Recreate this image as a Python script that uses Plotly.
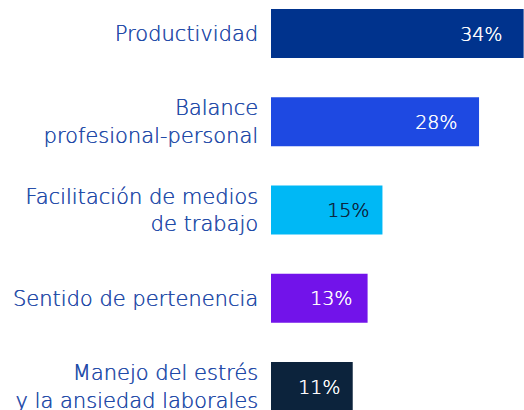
import plotly.graph_objects as go

categories = [
    "Productividad",
    "Balance<br>profesional-personal",
    "Facilitación de medios<br>de trabajo",
    "Sentido de pertenencia",
    "Manejo del estrés<br>y la ansiedad laborales",
]
values = [34, 28, 15, 13, 11]
value_labels = ["34%", "28%", "15%", "13%", "11%"]

bar_colors = ["#00338D", "#1E49E2", "#00B8F5", "#7213EA", "#0C233C"]
label_colors = ["#FFFFFF", "#FFFFFF", "#0C233C", "#FFFFFF", "#FFFFFF"]
label_shifts = [-20, -20, -11, -14, -11]

FONT = "DejaVu Sans"
TEXT_BLUE = "#1F4AA8"


def thick(c):
    return f"0.4px 0 0 {c}"


fig = go.Figure()
fig.add_trace(go.Bar(
    x=values,
    y=categories,
    orientation="h",
    marker=dict(color=bar_colors, line=dict(width=0)),
    width=0.555,
    hoverinfo="skip",
))

for cat, v, lab, col, sh in zip(categories, values, value_labels, label_colors, label_shifts):
    fig.add_annotation(
        x=v, y=cat, text=lab, showarrow=False,
        xanchor="right", yanchor="middle", xshift=sh,
        font=dict(family=FONT, size=19, color=col, weight=300, shadow=thick(col)),
    )

fig.update_layout(
    width=524, height=410,
    margin=dict(l=271, r=0, t=0, b=0, autoexpand=False),
    paper_bgcolor="white", plot_bgcolor="white",
    showlegend=False,
    xaxis=dict(range=[0, 34.05], visible=False, fixedrange=True),
    yaxis=dict(
        type="category",
        categoryorder="array", categoryarray=categories,
        range=[4.266, -0.380],
        showgrid=False, zeroline=False, showline=False,
        ticks="", ticklabelstandoff=12,
        tickfont=dict(family=FONT, size=21, color=TEXT_BLUE, weight=300,
                      shadow=thick(TEXT_BLUE)),
        fixedrange=True,
    ),
)

fig.write_html(
    "out.html",
    config={"displayModeBar": False},
    post_script="document.body.style.margin='0';document.body.style.overflow='hidden';",
)
